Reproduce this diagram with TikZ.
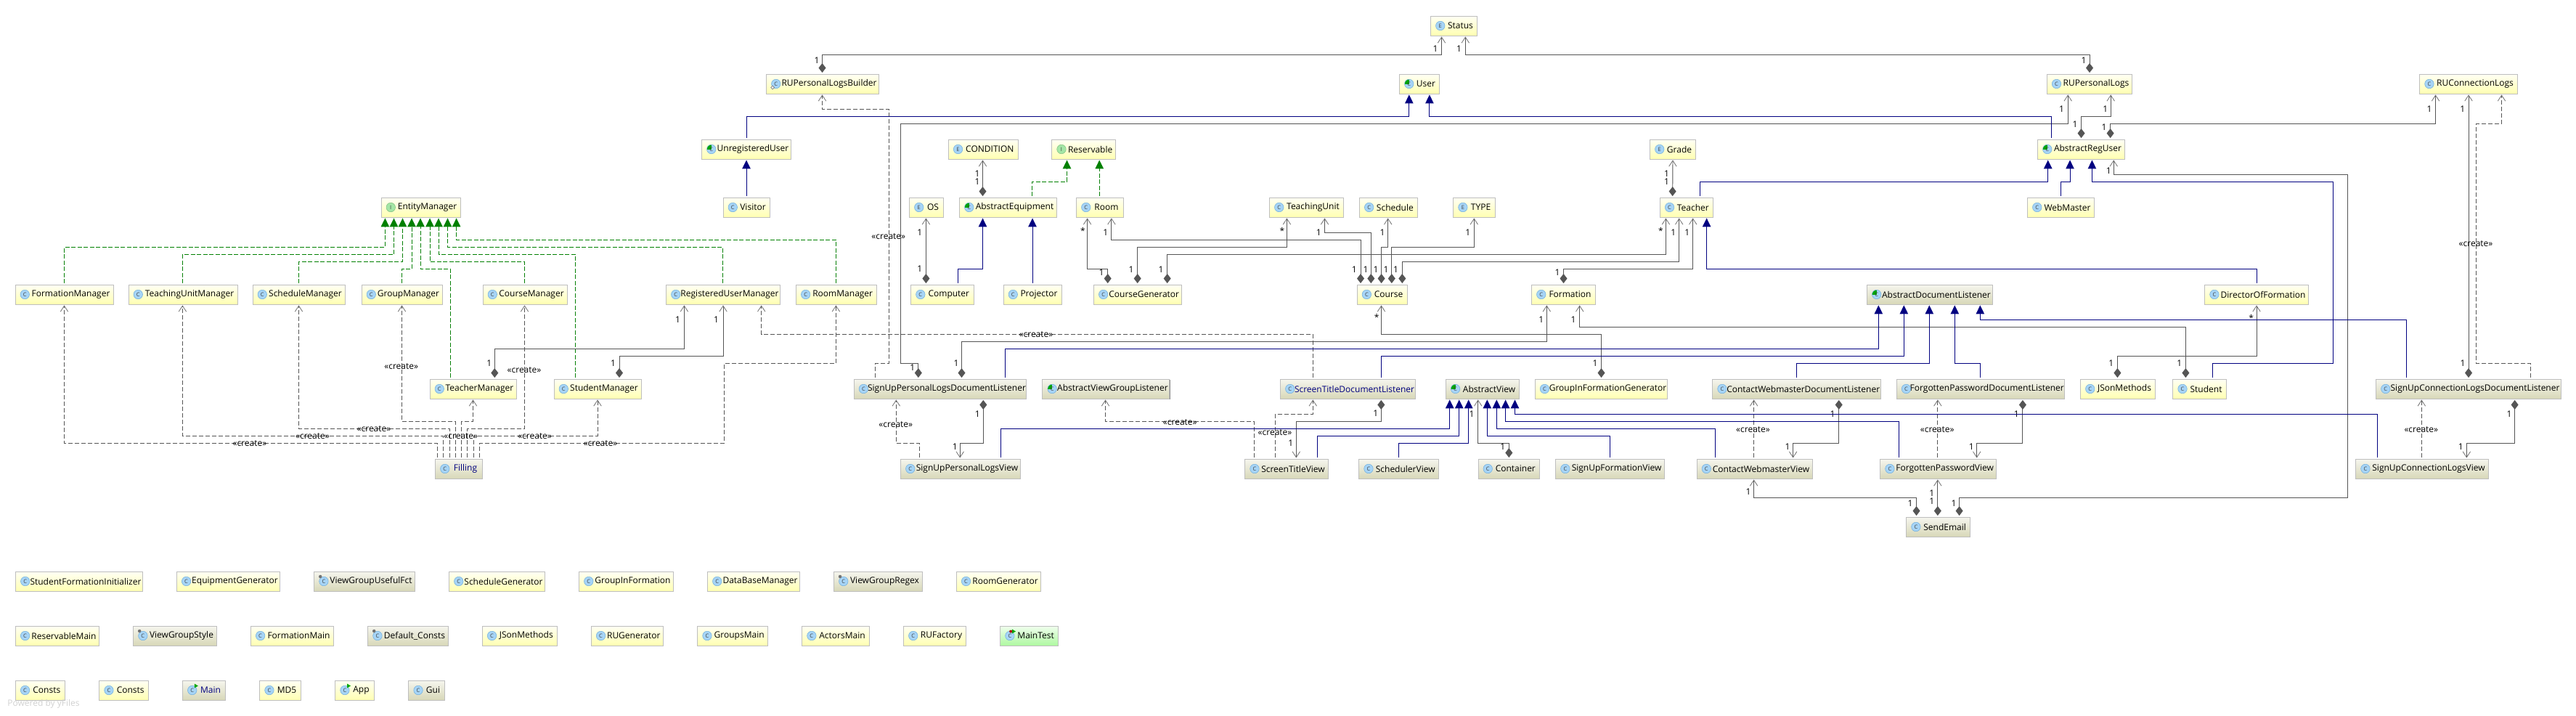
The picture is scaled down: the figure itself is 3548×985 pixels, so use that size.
\documentclass[tikz,border=0pt]{standalone}
\usepackage{fontspec}
\setmainfont{Open Sans}
\usepackage{tikz}
\usetikzlibrary{arrows.meta, shapes.geometric, shadows}

\definecolor{ownline}{HTML}{555555}
\definecolor{barbline}{HTML}{707070}
\definecolor{navyline}{HTML}{000080}
\definecolor{greenline}{HTML}{008000}
\definecolor{boxedge}{HTML}{BEBEBE}
\definecolor{iconblue}{HTML}{A6D4F6}
\definecolor{iconring}{HTML}{6FAEDD}
\definecolor{icongreen}{HTML}{A4E6A6}
\definecolor{yellowtop}{HTML}{FFFFF4}
\definecolor{yellowend}{HTML}{FFFFB2}
\definecolor{greytop}{HTML}{F5F5EE}
\definecolor{greyend}{HTML}{D8D8B8}
\definecolor{testtop}{HTML}{F0FFEE}
\definecolor{testend}{HTML}{AEF8A0}

\begin{document}
\begin{tikzpicture}[
    x=1pt, y=-1pt, % coordinates are pixels of the page, y going down
    % the class boxes
    boxbase/.style={rectangle, draw=boxedge, line width=.9pt, minimum height=27pt, inner sep=0pt,
        font=\fontsize{12}{13}\selectfont, execute at begin node={\hspace*{18pt}},
        drop shadow={shadow xshift=.6pt, shadow yshift=-.9pt, fill=black!45, opacity=1}},
    yellowbox/.style={boxbase, top color=yellowtop, bottom color=yellowend},
    greybox/.style={boxbase, top color=greytop, bottom color=greyend},
    testbox/.style={boxbase, top color=testtop, bottom color=testend},
    % the round icons at the left of a box
    icon/.style={circle, draw=iconring, fill=iconblue, line width=.5pt, minimum size=12.5pt, inner sep=0pt,
        anchor=center, xshift=13.7pt, text=black!75, font=\fontsize{7.5}{8}\selectfont,
        execute at begin node={}},
    iconmark/.style={anchor=center, inner sep=0pt, execute at begin node={}},
    kc/.style={label={[icon]west:C}},
    ke/.style={label={[icon]west:E}},
    ki/.style={label={[icon, fill=icongreen, draw=green!50!black!50]west:I}},
    ka/.style={label={[icon, path picture={\fill[green!65!black] (path picture bounding box.center) rectangle (path picture bounding box.north west);}]west:C}},
    ks/.style={kc, label={[iconmark, circle, fill=black!55, minimum size=4.5pt, xshift=9pt, yshift=6.5pt]west:}},
    km/.style={kc, label={[iconmark, isosceles triangle, fill=green!65!black, minimum width=6pt, minimum height=5pt, isosceles triangle stretches, xshift=18.5pt, yshift=6pt]west:}},
    kt/.style={km, label={[iconmark, circle, fill=red!70!black, minimum size=4pt, xshift=15pt, yshift=6pt]west:}},
    kb/.style={kc, label={[iconmark, diamond, draw=black!60, fill=white, line width=.5pt, minimum size=5pt, xshift=9pt, yshift=-5pt]west:}},
    % the connectors
    conn/.style={line width=.95pt, shorten <=1.5pt, shorten >=1pt},
    own/.style={conn, draw=ownline, {Diamond[length=13pt, width=10pt, color=ownline]}-{Straight Barb[length=8pt, width=10.5pt, line width=.8pt, color=barbline]}},
    inherit/.style={conn, draw=navyline, -{Triangle[length=12pt, width=11.5pt, color=navyline]}},
    realize/.style={conn, draw=greenline, dash pattern=on 6pt off 2.5pt, -{Triangle[length=12pt, width=11.5pt, color=greenline]}},
    create/.style={conn, draw=ownline, dash pattern=on 6pt off 3pt, -{Straight Barb[length=8pt, width=10.5pt, line width=.8pt, color=barbline]}},
    lbl/.style={inner sep=0pt, text=black, font=\fontsize{12}{13}\selectfont}
]
    % page size
    \useasboundingbox (0,0) rectangle (3548,985);

    % 1. The class boxes, row by row
    \node[yellowbox, ke, minimum width=64pt] (Status) at (2002.5,35.5) {Status};

    \node[yellowbox, kb, minimum width=155pt] (RUPersonalLogsBuilder) at (1133,115.5) {RUPersonalLogsBuilder};
    \node[yellowbox, ka, minimum width=55pt] (User) at (1955,115.5) {User};
    \node[yellowbox, kc, minimum width=117.5pt] (RUPersonalLogs) at (2878,115.5) {RUPersonalLogs};
    \node[yellowbox, kc, minimum width=134.6pt] (RUConnectionLogs) at (3400,115.5) {RUConnectionLogs};

    \node[yellowbox, ka, minimum width=123pt] (UnregisteredUser) at (1028,205.5) {UnregisteredUser};
    \node[yellowbox, ke, minimum width=96pt] (CONDITION) at (1354.3,205.5) {CONDITION};
    \node[yellowbox, ki, minimum width=88pt] (Reservable) at (1492.7,205.5) {Reservable};
    \node[yellowbox, ke, minimum width=63pt] (Grade) at (2304,205.5) {Grade};
    \node[yellowbox, ka, minimum width=120pt] (AbstractRegUser) at (2866.5,205.5) {AbstractRegUser};

    \node[yellowbox, ki, minimum width=109pt] (EntityManager) at (579.5,285.5) {EntityManager};
    \node[yellowbox, kc, minimum width=64pt] (Visitor) at (1028,285.5) {Visitor};
    \node[yellowbox, ke, minimum width=47pt] (OS) at (1276,285.5) {OS};
    \node[yellowbox, ka, minimum width=134pt] (AbstractEquipment) at (1388.5,285.5) {AbstractEquipment};
    \node[yellowbox, kc, minimum width=65pt] (Room) at (1515,285.5) {Room};
    \node[yellowbox, kc, minimum width=102pt] (TeachingUnit) at (1799.5,285.5) {TeachingUnit};
    \node[yellowbox, kc, minimum width=80pt] (Schedule) at (1912.4,285.5) {Schedule};
    \node[yellowbox, ke, minimum width=58pt] (TYPE) at (2030.6,285.5) {TYPE};
    \node[yellowbox, kc, minimum width=73pt] (Teacher) at (2322.8,285.5) {Teacher};
    \node[yellowbox, kc, minimum width=92pt] (WebMaster) at (2838.5,285.5) {WebMaster};

    \node[yellowbox, kc, minimum width=135pt] (FormationManager) at (88.5,405.5) {FormationManager};
    \node[yellowbox, kc, minimum width=150pt] (TeachingUnitManager) at (252,405.5) {TeachingUnitManager};
    \node[yellowbox, kc, minimum width=127pt] (ScheduleManager) at (411.5,405.5) {ScheduleManager};
    \node[yellowbox, kc, minimum width=111pt] (GroupManager) at (553.5,405.5) {GroupManager};
    \node[yellowbox, kc, minimum width=116pt] (CourseManager) at (723,405.5) {CourseManager};
    \node[yellowbox, kc, minimum width=157pt] (RegisteredUserManager) at (996,405.5) {RegisteredUserManager};
    \node[yellowbox, kc, minimum width=110.6pt] (RoomManager) at (1151.7,405.5) {RoomManager};
    \node[yellowbox, kc, minimum width=86.5pt] (Computer) at (1297.8,405.5) {Computer};
    \node[yellowbox, kc, minimum width=80pt] (Projector) at (1422,405.5) {Projector};
    \node[yellowbox, kc, minimum width=120.6pt] (CourseGenerator) at (1566.7,405.5) {CourseGenerator};
    \node[yellowbox, kc, minimum width=69pt] (Course) at (1903.6,405.5) {Course};
    \node[yellowbox, kc, minimum width=88pt] (Formation) at (2153.5,405.5) {Formation};
    \node[greybox, ka, minimum width=173pt] (AbstractDocumentListener) at (2657.9,405.5) {AbstractDocumentListener};
    \node[yellowbox, kc, minimum width=142.7pt] (DirectorOfFormation) at (3108,405.5) {DirectorOfFormation};

    \node[yellowbox, kc, minimum width=119pt] (TeacherManager) at (651.5,535.5) {TeacherManager};
    \node[yellowbox, kc, minimum width=120pt] (StudentManager) at (823,535.5) {StudentManager};
    \node[greybox, kc, minimum width=237.7pt] (SignUpPersonalLogsDocumentListener) at (1295,535.5) {SignUpPersonalLogsDocumentListener};
    \node[greybox, ka, minimum width=175pt] (AbstractViewGroupListener) at (1523.4,535.5) {AbstractViewGroupListener};
    \node[greybox, kc, minimum width=186pt, text=navyline] (ScreenTitleDocumentListener) at (1856.5,535.5) {ScreenTitleDocumentListener};
    \node[greybox, ka, minimum width=101.4pt] (AbstractView) at (2042,535.5) {AbstractView};
    \node[yellowbox, kc, minimum width=182.6pt] (GroupInFormationGenerator) at (2205.5,535.5) {GroupInFormationGenerator};
    \node[greybox, kc, minimum width=232pt] (ContactWebmasterDocumentListener) at (2474.7,535.5) {ContactWebmasterDocumentListener};
    \node[greybox, kc, minimum width=231pt] (ForgottenPasswordDocumentListener) at (2727.7,535.5) {ForgottenPasswordDocumentListener};
    \node[yellowbox, kc, minimum width=103pt] (JSonMethods) at (2917,535.5) {JSonMethods};
    \node[yellowbox, kc, minimum width=73.5pt] (Student) at (3029.5,535.5) {Student};
    \node[greybox, kc, minimum width=255pt] (SignUpConnectionLogsDocumentListener) at (3400,535.5) {SignUpConnectionLogsDocumentListener};

    \node[greybox, kc, minimum width=65pt, text=navyline] (Filling) at (632,645.5) {Filling};
    \node[greybox, kc, minimum width=165pt] (SignUpPersonalLogsView) at (1323,645.5) {SignUpPersonalLogsView};
    \node[greybox, kc, minimum width=114.6pt] (ScreenTitleView) at (1772,645.5) {ScreenTitleView};
    \node[greybox, kc, minimum width=110pt] (SchedulerView) at (1926.7,645.5) {SchedulerView};
    \node[greybox, kc, minimum width=84.7pt] (Container) at (2078.3,645.5) {Container};
    \node[greybox, kc, minimum width=150pt] (SignUpFormationView) at (2217.6,645.5) {SignUpFormationView};
    \node[greybox, kc, minimum width=159pt] (ContactWebmasterView) at (2416.5,645.5) {ContactWebmasterView};
    \node[greybox, kc, minimum width=160pt] (ForgottenPasswordView) at (2669.6,645.5) {ForgottenPasswordView};
    \node[greybox, kc, minimum width=182.7pt] (SignUpConnectionLogsView) at (3336,645.5) {SignUpConnectionLogsView};

    \node[greybox, kc, minimum width=88pt] (SendEmail) at (2669.6,725.5) {SendEmail};

    % the classes that stand alone
    \node[yellowbox, kc, minimum width=175pt] (StudentFormationInitializer) at (109,800.5) {StudentFormationInitializer};
    \node[yellowbox, kc, minimum width=142.3pt] (EquipmentGenerator) at (314.5,800.5) {EquipmentGenerator};
    \node[greybox, ks, minimum width=138.7pt] (ViewGroupUsefulFct) at (502,800.5) {ViewGroupUsefulFct};
    \node[yellowbox, kc, minimum width=132pt] (ScheduleGenerator) at (684.5,800.5) {ScheduleGenerator};
    \node[yellowbox, kc, minimum width=130pt] (GroupInFormation) at (862.5,800.5) {GroupInFormation};
    \node[yellowbox, kc, minimum width=127pt] (DataBaseManager) at (1038,800.5) {DataBaseManager};
    \node[greybox, ks, minimum width=122pt] (ViewGroupRegex) at (1209.5,800.5) {ViewGroupRegex};
    \node[yellowbox, kc, minimum width=116.4pt] (RoomGenerator) at (1375.5,800.5) {RoomGenerator};

    \node[yellowbox, kc, minimum width=115.3pt] (ReservableMain) at (79,875.5) {ReservableMain};
    \node[greybox, ks, minimum width=114.8pt] (ViewGroupStyle) at (241,875.5) {ViewGroupStyle};
    \node[yellowbox, kc, minimum width=114.3pt] (FormationMain) at (402.5,875.5) {FormationMain};
    \node[greybox, ks, minimum width=110.7pt] (DefaultConsts) at (562,875.5) {Default\_Consts};
    \node[yellowbox, kc, minimum width=103pt] (JSonMethodsTwo) at (715.8,875.5) {JSonMethods};
    \node[yellowbox, kc, minimum width=99pt] (RUGenerator) at (863.8,875.5) {RUGenerator};
    \node[yellowbox, kc, minimum width=97pt] (GroupsMain) at (1009.2,875.5) {GroupsMain};
    \node[yellowbox, kc, minimum width=92.8pt] (ActorsMain) at (1151,875.5) {ActorsMain};
    \node[yellowbox, kc, minimum width=86pt] (RUFactory) at (1287.5,875.5) {RUFactory};
    \node[testbox, kt, minimum width=80pt] (MainTest) at (1417.6,875.5) {MainTest};

    \node[yellowbox, kc, minimum width=68pt] (ConstsOne) at (55.3,950.5) {Consts};
    \node[yellowbox, kc, minimum width=68pt] (ConstsTwo) at (170.7,950.5) {Consts};
    \node[greybox, km, minimum width=59pt, text=navyline] (Main) at (281,950.5) {Main};
    \node[yellowbox, kc, minimum width=56.6pt] (MDFive) at (386,950.5) {MD5};
    \node[yellowbox, km, minimum width=53.6pt] (App) at (488.5,950.5) {App};
    \node[greybox, kc, minimum width=49.4pt] (Gui) at (587.5,950.5) {Gui};

    \node[lbl, text=black!18] (watermark) at (60,969) {Powered by yFiles};

    % 2. EntityManager and its implementations
    \draw[realize] (FormationManager.north) -- (88.5,340.3) -| (EntityManager.south -| 530.4,0);
    \draw[realize] (TeachingUnitManager.north -| 251.4,0) -- (251.4,350.3) -| (EntityManager.south -| 542.5,0);
    \draw[realize] (ScheduleManager.north) -- (411.5,360.3) -| (EntityManager.south -| 554.5,0);
    \draw[realize] (GroupManager.north) -- (553.5,370.3) -| (EntityManager.south -| 567,0);
    \draw[realize] (TeacherManager.north -| 620.5,0) -- (620.5,370.3) -| (EntityManager.south -| 579,0);
    \draw[realize] (CourseManager.north -| 722.7,0) -- (722.7,360.3) -| (EntityManager.south -| 592,0);
    \draw[realize] (StudentManager.north -| 792.8,0) -- (792.8,350.3) -| (EntityManager.south -| 604,0);
    \draw[realize] (RegisteredUserManager.north -| 995.3,0) -- (995.3,340.3) -| (EntityManager.south -| 616.5,0);
    \draw[realize] (RoomManager.north -| 1151.4,0) -- (1151.4,330.3) -| (EntityManager.south -| 628.6,0);

    % Filling creates all the managers
    \draw[create] (Filling.north -| 602.2,0) -- (602.2,610.3) -| (FormationManager.south)
        node[lbl] at (344,611) {«create»};
    \draw[create] (Filling.north -| 610.3,0) -- (610.3,600.3) -| (TeachingUnitManager.south -| 251.4,0)
        node[lbl] at (430.5,600.7) {«create»};
    \draw[create] (Filling.north -| 619.6,0) -- (619.6,590.3) -| (ScheduleManager.south)
        node[lbl] at (515,590.7) {«create»};
    \draw[create] (Filling.north -| 627.2,0) -- (627.2,580.3) -| (GroupManager.south)
        node[lbl] at (552.7,505) {«create»};
    \draw[create] (Filling.north -| 635.3,0) -- (635.3,580.3) -| (TeacherManager.south)
        node[lbl] at (634.8,600.7) {«create»};
    \draw[create] (Filling.north -| 643.3,0) -- (643.3,590.3) -| (CourseManager.south -| 722.5,0)
        node[lbl] at (722,510) {«create»};
    \draw[create] (Filling.north -| 652.2,0) -- (652.2,600.3) -| (StudentManager.south)
        node[lbl] at (736.6,600.7) {«create»};
    \draw[create] (Filling.north -| 660.3,0) -- (660.3,610.3) -- (997.3,610.3) -- (997.3,500.3) -| (RoomManager.south -| 1151.4,0)
        node[lbl] at (827,610.7) {«create»};

    \draw[own] (TeacherManager.north -| 681.3,0) -- (681.3,480.3) -| (RegisteredUserManager.south -| 942.4,0)
        node[lbl] at (673.7,500.7) {1} node[lbl] at (933.5,440) {1};
    \draw[own] (StudentManager.north -| 853,0) -- (853,490.3) -| (RegisteredUserManager.south)
        node[lbl] at (844.6,500.7) {1} node[lbl] at (986.6,440) {1};
    \draw[create] (ScreenTitleDocumentListener.north -| 1808.4,0) -- (1808.4,460.3) -| (RegisteredUserManager.south -| 1048.7,0)
        node[lbl] at (1427,461) {«create»};

    % 3. Status and the users
    \draw[own] (RUPersonalLogsBuilder.north -| 1132.5,0) -- (1132.5,75.3) -| (Status.south -| 1985.5,0)
        node[lbl] at (1125,83.3) {1} node[lbl] at (1977,67.7) {1};
    \draw[own] (RUPersonalLogs.north) -- (2878,75.3) -| (Status.south -| 2018.3,0)
        node[lbl] at (2870,83.3) {1} node[lbl] at (2009.6,67.7) {1};
    \draw[create] (SignUpPersonalLogsDocumentListener.north -| 1205.6,0) -- (1205.6,500.3) -- (1224.4,500.3) -- (1224.4,150.3) -| (RUPersonalLogsBuilder.south -| 1132.5,0)
        node[lbl] at (1223.8,326) {«create»};
    \draw[own] (SignUpPersonalLogsDocumentListener.north -| 1264.8,0) -- (1264.8,500.3) -- (1240.5,500.3) -- (1240.5,170.3) -| (RUPersonalLogs.south -| 2848.2,0)
        node[lbl] at (1256.7,506) {1} node[lbl] at (2839.6,150) {1};
    \draw[inherit] (UnregisteredUser.north) -- (1028,160.3) -| (User.south -| 1940.8,0);
    \draw[inherit] (AbstractRegUser.north -| 2825.3,0) -- (2825.3,160.3) -| (User.south -| 1968.9,0);
    \draw[inherit] (Visitor.north) -- (UnregisteredUser.south);
    \draw[own] (AbstractRegUser.north) -- (2866.5,160.3) -| (RUPersonalLogs.south -| 2907.2,0)
        node[lbl] at (2858,171) {1} node[lbl] at (2899.7,150) {1};
    \draw[own] (AbstractRegUser.north -| 2906.6,0) -- (2906.6,170.3) -| (RUConnectionLogs.south -| 3354.5,0)
        node[lbl] at (2898,175.7) {1} node[lbl] at (3345.9,150) {1};
    \draw[own] (SignUpConnectionLogsDocumentListener.north) -- (RUConnectionLogs.south)
        node[lbl] at (3391.7,150) {1} node[lbl] at (3392,500.7) {1};
    \draw[create] (SignUpConnectionLogsDocumentListener.north -| 3485.6,0) -- (3485.6,500.3) -- (3410.6,500.3) -- (3410.6,170.3) -| (RUConnectionLogs.south -| 3445.5,0)
        node[lbl] at (3410,336) {«create»};
    \draw[inherit] (Teacher.north -| 2341.4,0) -- (2341.4,250.3) -| (AbstractRegUser.south -| 2820.7,0);
    \draw[inherit] (WebMaster.north) -- (2838.5,250.3) -| (AbstractRegUser.south -| 2851,0);
    \draw[inherit] (Student.north -| 3047.6,0) -- (3047.6,500.3) -- (3213.6,500.3) -- (3213.6,250.3) -| (AbstractRegUser.south -| 2881.4,0);
    \draw[own] (SendEmail.north -| 2698.6,0) -- (2698.6,685.3) -- (3233.6,685.3) -- (3233.6,240.3) -| (AbstractRegUser.south -| 2911.2,0)
        node[lbl] at (2691,693.3) {1} node[lbl] at (2904.3,235) {1};
    \draw[own] (Teacher.north -| 2303.6,0) -- (Grade.south)
        node[lbl] at (2295.5,239.3) {1} node[lbl] at (2295.5,250.7) {1};

    % 4. Equipment, rooms and courses
    \draw[own] (AbstractEquipment.north -| 1353.5,0) -- (CONDITION.south -| 1353.5,0)
        node[lbl] at (1346,239.3) {1} node[lbl] at (1346,250.7) {1};
    \draw[realize] (AbstractEquipment.north -| 1421.2,0) -- (1421.2,250.3) -| (Reservable.south -| 1469.5,0);
    \draw[realize] (Room.north -| 1514.2,0) -- (Reservable.south -| 1514.2,0);
    \draw[own] (Computer.north -| 1275.4,0) -- (OS.south -| 1275.4,0)
        node[lbl] at (1266.8,320) {1} node[lbl] at (1266.8,370.7) {1};
    \draw[inherit] (Computer.north -| 1319.5,0) -- (1319.5,370.3) -| (AbstractEquipment.south -| 1353.5,0);
    \draw[inherit] (Projector.north) -- (AbstractEquipment.south -| 1422,0);
    \draw[own] (CourseGenerator.north -| 1525.7,0) -- (1525.7,370.3) -| (Room.south -| 1497.6,0)
        node[lbl] at (1517,375.7) {1} node[lbl] at (1491.3,317.7) {*};
    \draw[own] (Course.north -| 1874,0) -- (1874,330.3) -| (Room.south -| 1530.9,0)
        node[lbl] at (1865.3,371) {1} node[lbl] at (1522.8,320) {1};
    \draw[own] (CourseGenerator.north) -- (1566.7,340.3) -| (TeachingUnit.south -| 1772.4,0)
        node[lbl] at (1558,371) {1} node[lbl] at (1765.8,317.7) {*};
    \draw[own] (Course.north -| 1888.3,0) -- (1888.3,320.3) -| (TeachingUnit.south -| 1824.5,0)
        node[lbl] at (1881,371) {1} node[lbl] at (1816.3,320) {1};
    \draw[own] (Course.north -| 1902.6,0) -- (1902.6,340.3) -| (Schedule.south -| 1911.7,0)
        node[lbl] at (1895,371) {1} node[lbl] at (1904,320) {1};
    \draw[own] (Course.north -| 1916.8,0) -- (1916.8,340.3) -| (TYPE.south -| 2030.3,0)
        node[lbl] at (1909,371) {1} node[lbl] at (2021.7,320) {1};
    \draw[own] (CourseGenerator.north -| 1607.7,0) -- (1607.7,350.3) -| (Teacher.south -| 2294.4,0)
        node[lbl] at (1599,371) {1} node[lbl] at (2287.5,317.7) {*};
    \draw[own] (Course.north -| 1931.3,0) -- (1931.3,360.3) -| (Teacher.south -| 2312.7,0)
        node[lbl] at (1922.5,371) {1} node[lbl] at (2304.7,320) {1};
    \draw[own] (Formation.north) -- (2153.5,370.3) -| (Teacher.south -| 2331.7,0)
        node[lbl] at (2145,375.7) {1} node[lbl] at (2323.7,320) {1};
    \draw[inherit] (DirectorOfFormation.north) -- (3108,370.3) -| (Teacher.south -| 2350.6,0);
    \draw[own] (JSonMethods.north -| 2916.4,0) -- (2916.4,490.3) -| (DirectorOfFormation.south)
        node[lbl] at (2907.8,500.7) {1} node[lbl] at (3100.6,437.7) {*};
    \draw[own] (Student.north -| 3010.4,0) -- (3010.4,450.3) -| (Formation.south -| 2175.7,0)
        node[lbl] at (3001.8,500.7) {1} node[lbl] at (2167,440) {1};
    \draw[own] (SignUpPersonalLogsDocumentListener.north -| 1324.5,0) -- (1324.5,470.3) -| (Formation.south -| 2130.3,0)
        node[lbl] at (1317,500.7) {1} node[lbl] at (2122.8,440) {1};
    \draw[own] (GroupInFormationGenerator.north) -- (2205.5,460.3) -| (Course.south -| 1902.5,0)
        node[lbl] at (2197,500.7) {1} node[lbl] at (1896.2,437.3) {*};

    % 5. The listeners and their views
    \draw[inherit] (SignUpPersonalLogsDocumentListener.north -| 1384.7,0) -- (1384.7,480.3) -| (AbstractDocumentListener.south -| 2587.3,0);
    \draw[inherit] (ScreenTitleDocumentListener.north -| 1902.5,0) -- (1902.5,490.3) -| (AbstractDocumentListener.south -| 2622.3,0);
    \draw[inherit] (ContactWebmasterDocumentListener.north) -- (2474.7,500.3) -| (AbstractDocumentListener.south -| 2657.3,0);
    \draw[inherit] (ForgottenPasswordDocumentListener.north) -- (2727.7,500.3) -| (AbstractDocumentListener.south -| 2692.3,0);
    \draw[inherit] (SignUpConnectionLogsDocumentListener.north -| 3314.8,0) -- (3314.8,440.3) -| (AbstractDocumentListener.south -| 2727.3,0);

    \draw[create] (SignUpPersonalLogsView.north -| 1266.5,0) -- (1266.5,610.3) -| (SignUpPersonalLogsDocumentListener.south -| 1234.3,0)
        node[lbl] at (1233.8,585) {«create»};
    \draw[own] (SignUpPersonalLogsDocumentListener.south -| 1354.3,0) -- (1354.3,610.3) -| (SignUpPersonalLogsView.north -| 1322.2,0)
        node[lbl] at (1346.3,570) {1} node[lbl] at (1315.3,615.7) {1};
    \draw[create] (ScreenTitleView.north -| 1727.3,0) -- (1727.3,580.3) -| (AbstractViewGroupListener.south -| 1522.5,0)
        node[lbl] at (1625.3,581.3) {«create»};
    \draw[create] (ScreenTitleView.north -| 1756.3,0) -- (1756.3,570.3) -| (ScreenTitleDocumentListener.south -| 1808.3,0)
        node[lbl] at (1756,596) {«create»};
    \draw[own] (ScreenTitleDocumentListener.south -| 1902.3,0) -- (1902.3,580.3) -| (ScreenTitleView.north -| 1785.3,0)
        node[lbl] at (1894.7,569.7) {1} node[lbl] at (1777.7,610.7) {1};
    \draw[create] (ContactWebmasterView.north -| 2415.6,0) -- (ContactWebmasterDocumentListener.south -| 2415.6,0)
        node[lbl] at (2414.5,591.3) {«create»};
    \draw[own] (ContactWebmasterDocumentListener.south -| 2532.7,0) -- (2532.7,610.3) -| (ContactWebmasterView.north -| 2469.6,0)
        node[lbl] at (2524,570) {1} node[lbl] at (2462,615.7) {1};
    \draw[create] (ForgottenPasswordView.north -| 2668.8,0) -- (ForgottenPasswordDocumentListener.south -| 2668.8,0)
        node[lbl] at (2668.2,591.3) {«create»};
    \draw[own] (ForgottenPasswordDocumentListener.south -| 2785.9,0) -- (2785.9,610.3) -| (ForgottenPasswordView.north -| 2722.7,0)
        node[lbl] at (2777.3,570) {1} node[lbl] at (2715.3,615.7) {1};
    \draw[create] (SignUpConnectionLogsView.north -| 3335.3,0) -- (SignUpConnectionLogsDocumentListener.south -| 3335.3,0)
        node[lbl] at (3334.8,591.3) {«create»};
    \draw[own] (SignUpConnectionLogsDocumentListener.south -| 3463.6,0) -- (3463.6,610.3) -| (SignUpConnectionLogsView.north -| 3397.3,0)
        node[lbl] at (3456,570) {1} node[lbl] at (3389.2,615.7) {1};

    % 6. The views below AbstractView
    \draw[inherit] (SignUpPersonalLogsView.north -| 1378.4,0) -- (1378.4,590.3) -| (AbstractView.south -| 1996.7,0);
    \draw[inherit] (ScreenTitleView.north -| 1814.7,0) -- (1814.7,600.3) -| (AbstractView.south -| 2009.7,0);
    \draw[inherit] (SchedulerView.north) -- (1926.7,610.3) -| (AbstractView.south -| 2022.7,0);
    \draw[own] (Container.north) -- (2078.3,610.3) -| (AbstractView.south -| 2035.7,0)
        node[lbl] at (2069.7,615.7) {1} node[lbl] at (2027,570) {1};
    \draw[inherit] (SignUpFormationView.north) -- (2217.6,600.3) -| (AbstractView.south -| 2048.3,0);
    \draw[inherit] (ContactWebmasterView.north -| 2362.2,0) -- (2362.2,590.3) -| (AbstractView.south -| 2061.3,0);
    \draw[inherit] (ForgottenPasswordView.north -| 2615.4,0) -- (2615.4,580.3) -| (AbstractView.south -| 2073.6,0);
    \draw[inherit] (SignUpConnectionLogsView.north -| 3274.7,0) -- (3274.7,570.3) -| (AbstractView.south -| 2086.5,0);

    % SendEmail
    \draw[own] (SendEmail.north -| 2639.5,0) -- (2639.5,685.3) -| (ContactWebmasterView.south -| 2415.6,0)
        node[lbl] at (2630.9,693.3) {1} node[lbl] at (2408,677.7) {1};
    \draw[own] (SendEmail.north -| 2668.8,0) -- (ForgottenPasswordView.south -| 2668.8,0)
        node[lbl] at (2660.7,679.3) {1} node[lbl] at (2660.7,690.7) {1};

\end{tikzpicture}
\end{document}
